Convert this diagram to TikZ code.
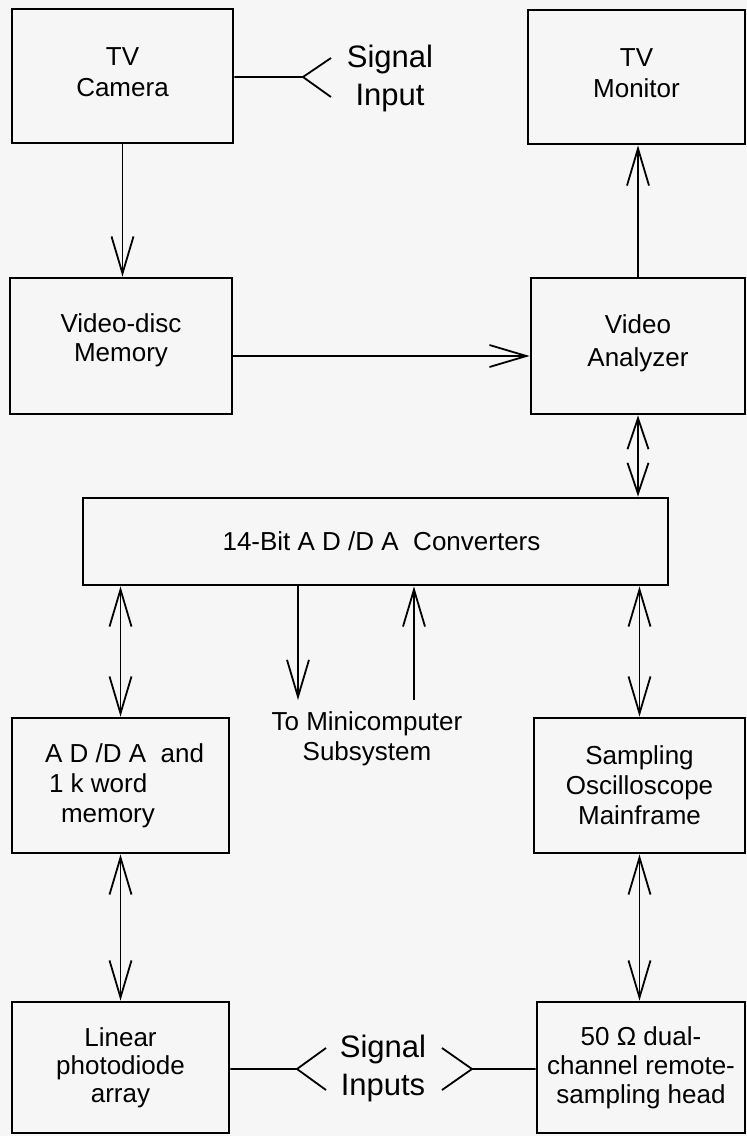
\documentclass[tikz,border=0pt]{standalone}
\usepackage{fontspec}
\setmainfont{Liberation Sans}
\usetikzlibrary{arrows.meta,calc}
\definecolor{bg}{RGB}{246,246,246}
\begin{document}
\begin{tikzpicture}[x=1pt,y=-1pt,
  box/.style={draw, line width=2.8pt, inner sep=0pt, align=center, font=\fontsize{26}{31}\selectfont},
  conn/.style={line width=1.8pt, line join=round},
  barb/.tip={Straight Barb[length=37pt,width=22pt]},
  shortbarb/.tip={Straight Barb[length=31pt,width=21pt]},
  arr/.style={conn, -barb},
  darr/.style={conn, barb-barb},
  sdarr/.style={conn, shortbarb-shortbarb},
  sig/.style={font=\fontsize{31}{38}\selectfont, align=center, inner sep=0pt},
  note/.style={font=\fontsize{26}{30}\selectfont, align=center, inner sep=0pt}]
\fill[bg] (0,0) rectangle (747,1136);
\useasboundingbox (0,0) rectangle (747,1136);

% boxes
\node[box, minimum width=221pt, minimum height=134pt, text depth=8pt] (camera) at (122.5,76) {TV\\Camera};
\node[box, minimum width=217pt, minimum height=134pt, text depth=8pt] (monitor) at (636.5,77) {TV\\Monitor};
\node[box, minimum width=222pt, minimum height=136pt, font=\fontsize{26}{29}\selectfont, text depth=17.5pt] (vdisc) at (121,346) {Video-disc\\Memory};
\node[box, minimum width=214pt, minimum height=136pt, font=\fontsize{26}{33}\selectfont, text depth=11.5pt] (analyzer) at (638,346) {Video\\Analyzer};
\node[box, minimum width=585pt, minimum height=87pt] (conv) at (375.5,541.5) {\hspace*{12pt}14-Bit A D /D A\ \ Converters};
\node[box, minimum width=217pt, minimum height=135pt, align=left, font=\fontsize{26}{30}\selectfont] (adda) at (120.5,785.5) {\hspace*{8pt}A D /D A\ \ and\\\hspace*{12pt}1 k word\\\hspace*{24pt}memory};
\node[box, minimum width=211pt, minimum height=135pt, font=\fontsize{26}{30}\selectfont] (sampling) at (639.5,785.5) {Sampling\\Oscilloscope\\Mainframe};
\node[box, minimum width=217pt, minimum height=131pt, font=\fontsize{26}{28}\selectfont] (linear) at (120.5,1067.5) {Linear\\photodiode\\array};
\node[box, minimum width=208pt, minimum height=131pt, font=\fontsize{26}{29}\selectfont] (head) at (641,1067.5) {50 Ω dual-\\channel remote-\\sampling head};

% labels
\node[sig] (sigin) at (390,78) {Signal\\Input};
\node[sig] (sigins) at (383,1068) {Signal\\Inputs};
\node[note, anchor=north] (tomini) at (367,711) {To Minicomputer\\Subsystem};

% signal input forks
\coordinate (f1) at (303,77);
\draw[conn] (camera.east |- f1) -- (f1) -- ++(28,-19) (f1) -- ++(28,20);
\coordinate (f2) at (297,1069);
\coordinate (f3) at (472,1069);
\draw[conn] (linear.east |- f2) -- (f2) -- ++(29,-21) (f2) -- ++(29,21);
\draw[conn] (head.west |- f3) -- (f3) -- ++(-30,-21) (f3) -- ++(-30,21);

% arrows
\draw[arr] (camera.south) -- (camera.south |- vdisc.north);
\draw[arr] (analyzer.north) -- (analyzer.north |- monitor.south);
\coordinate (h1) at (0,356);
\draw[arr] (vdisc.east |- h1) -- (analyzer.west |- h1);
\draw[sdarr] (analyzer.south) -- (analyzer.south |- conv.north);
\draw[darr] (conv.south -| adda.north) -- (adda.north);
\coordinate (m1) at (298,700);
\coordinate (m2) at (414,700);
\draw[arr] (conv.south -| m1) -- (m1);
\draw[arr] (m2) -- (conv.south -| m2);
\draw[darr] (conv.south -| sampling.north) -- (sampling.north);
\draw[darr] (adda.south) -- (adda.south |- linear.north);
\draw[darr] (sampling.south) -- (sampling.south |- head.north);
\end{tikzpicture}
\end{document}
